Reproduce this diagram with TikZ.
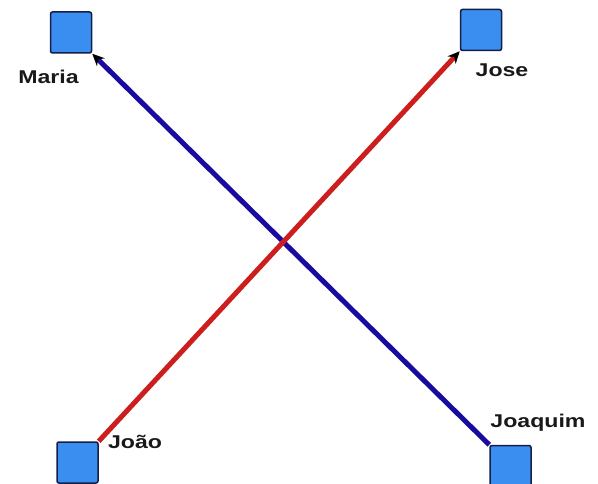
\documentclass[tikz,border=0pt]{standalone}
\usepackage{fontspec}
\setmainfont{Liberation Sans}
\usetikzlibrary{arrows.meta}
\definecolor{boxfill}{RGB}{58,142,240}
\definecolor{boxedge}{RGB}{20,30,70}
\definecolor{lineblue}{RGB}{25,10,160}
\definecolor{linered}{RGB}{205,30,30}
\tikzset{
  person/.style={draw=boxedge, line width=1.5pt, fill=boxfill, rounded corners=2pt,
    minimum width=41pt, minimum height=41pt, inner sep=0pt},
  lbl/.style={font=\bfseries\fontsize{18.5}{20}\selectfont, text=black!90, inner sep=0pt, xscale=1.25},
  link/.style={line width=5pt, -{Stealth[length=12pt,width=11pt,black]}}
}
\begin{document}
\begin{tikzpicture}[x=1pt,y=-1pt]
\useasboundingbox (0,0) rectangle (598,484);
\node[person] (maria) at (71,32.5) {};
\node[person] (jose) at (481,30) {};
\node[person] (joao) at (77.5,462.5) {};
\node[person] (joaquim) at (510.5,466) {};
\node[lbl] (lmaria) at (48.5,77) {Maria};
\node[lbl] (ljose) at (502,70) {Jose};
\node[lbl] (ljoao) at (135,442) {João};
\node[lbl] (ljoaquim) at (538,423) {Joaquim};
\draw[link, draw=lineblue] (joaquim.north west) -- (maria.south east);
\draw[link, draw=linered] (joao.north east) -- (jose.south west);
\end{tikzpicture}
\end{document}
